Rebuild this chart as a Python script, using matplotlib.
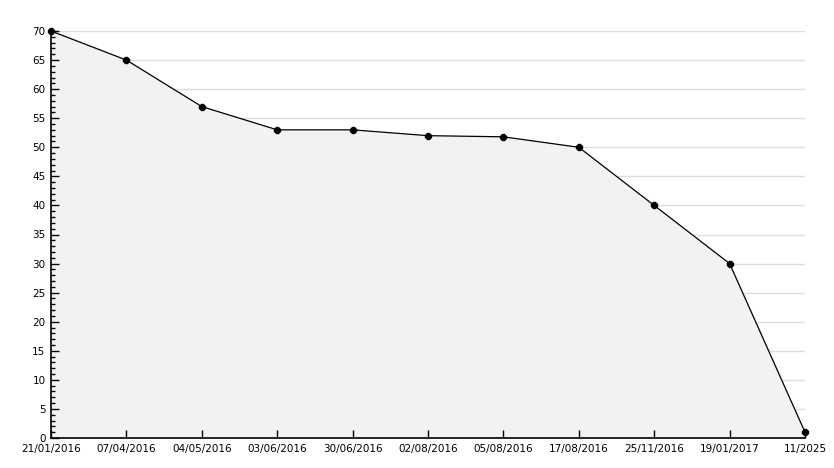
import matplotlib
matplotlib.use("Agg")
import matplotlib.pyplot as plt
from matplotlib.ticker import MultipleLocator

dates = ["21/01/2016", "07/04/2016", "04/05/2016", "03/06/2016", "30/06/2016",
         "02/08/2016", "05/08/2016", "17/08/2016", "25/11/2016", "19/01/2017",
         "11/2025"]
values = [70, 65, 57, 53, 53, 52, 51.8, 50, 40, 30, 1]
y_grid = list(range(5, 75, 5))

fig = plt.figure(figsize=(8.34, 4.68), dpi=100)
ax = fig.add_axes([51 / 834, 30 / 468, 754 / 834, 407 / 468])

x = list(range(len(dates)))
# grid lines sit under the filled area, ticks stay on top
ax.hlines(y_grid, 0, len(dates) - 1, color="#dddddd", linewidth=1, zorder=0)
ax.fill_between(x, values, 0, color="#f2f2f2", zorder=1)
ax.plot(x, values, color="black", linewidth=0.9, marker="8", markersize=4.5, zorder=3,
        clip_on=False)

ax.set_xlim(0, len(dates) - 1)
ax.set_ylim(0, 70)
ax.set_xticks(x)
ax.set_xticklabels(dates)
ax.yaxis.set_major_locator(MultipleLocator(5))
ax.yaxis.set_minor_locator(MultipleLocator(1))

for s in ("top", "right"):
    ax.spines[s].set_visible(False)
for s in ("left", "bottom"):
    ax.spines[s].set_linewidth(1.2)

ax.tick_params(axis="y", which="major", direction="in", length=6, width=1,
               labelsize=7.5, pad=4)
ax.tick_params(axis="y", which="minor", direction="in", length=3, width=1)
ax.tick_params(axis="x", which="major", direction="in", length=6, width=1,
               labelsize=7.5, pad=4)

fig.savefig("out.png", dpi=100)
